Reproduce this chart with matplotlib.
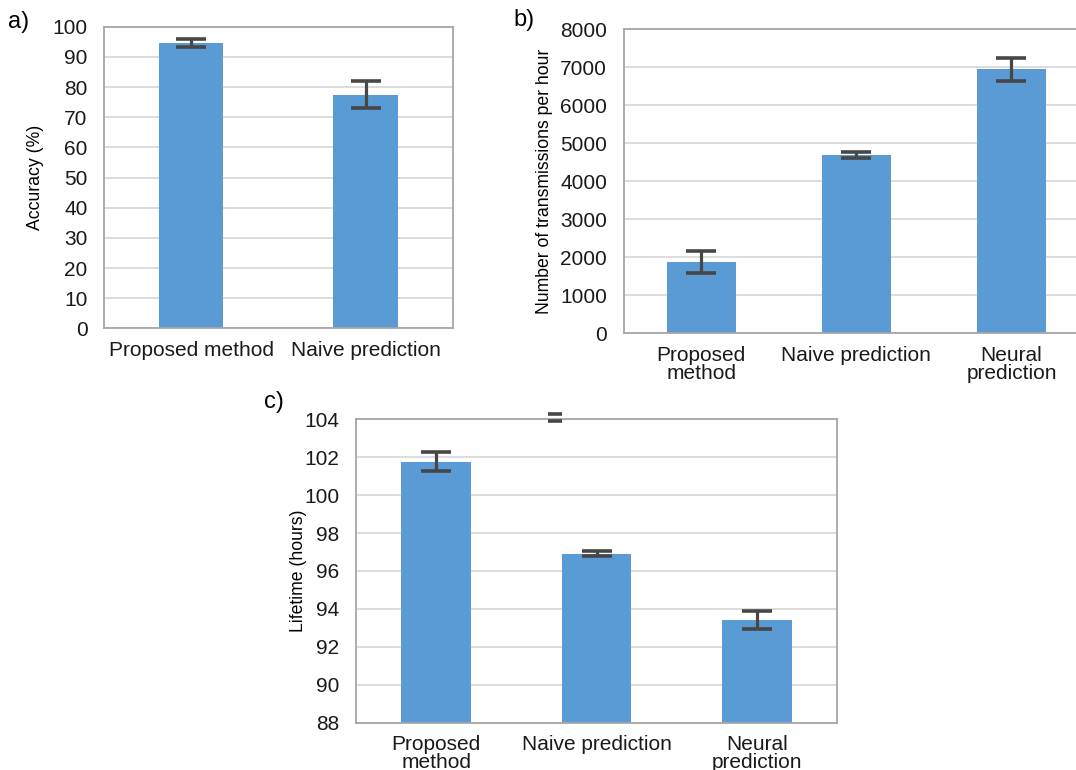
import matplotlib
matplotlib.use("Agg")
import matplotlib.pyplot as plt
import numpy as np

plt.rcParams['font.family'] = ['Liberation Sans', 'DejaVu Sans']

# panel a
acc_labels = ["Proposed method", "Naive prediction"]
acc_vals = [94.6, 77.5]
acc_err = [1.2, 4.6]

# panel b
tx_labels = ["Proposed\nmethod", "Naive prediction", "Neural\nprediction"]
tx_vals = [1870, 4690, 6945]
tx_err = [285, 75, 310]

# panel c
life_labels = ["Proposed\nmethod", "Naive prediction", "Neural\nprediction"]
life_vals = [101.77, 96.92, 93.4]
life_err = [0.5, 0.15, 0.48]
# stray error bar sitting on the top border in the original
stray_x = [0.74]
stray_y = [104.1]
stray_err = [0.2]

BAR = '#5B9BD5'
ERR = '#474747'
GRID = '#D9D9D9'
SPINE = '#A6A6A6'


def style(ax, ticks, ylabel, lpad):
    ax.set_yticks(ticks)
    ax.set_ylim(ticks[0], ticks[-1])
    ax.yaxis.grid(True, color=GRID, linewidth=1.3)
    ax.set_axisbelow(True)
    for s in ax.spines.values():
        s.set_color(SPINE)
        s.set_linewidth(1.3)
    ax.tick_params(length=0, labelsize=15, colors='#1a1a1a')
    ax.tick_params(axis='x', pad=9)
    ax.tick_params(axis='y', pad=12)
    ax.set_ylabel(ylabel, fontsize=12.7, labelpad=lpad)


def bars(ax, labels, vals, err, width):
    x = np.arange(len(labels))
    ax.bar(x, vals, width=width, color=BAR, zorder=2)
    ax.errorbar(x, vals, yerr=err, fmt='none', ecolor=ERR, elinewidth=2.3,
                capsize=11, capthick=2.6, zorder=3)
    ax.set_xticks(x)
    ax.set_xticklabels(labels, linespacing=0.95)
    ax.set_xlim(-0.5, len(labels) - 0.5)


fig = plt.figure(figsize=(10.76, 7.70), dpi=100)

ax1 = fig.add_axes([0.0967, 0.5736, 0.324, 0.3917])
bars(ax1, acc_labels, acc_vals, acc_err, 0.37)
style(ax1, np.arange(0, 101, 10), "Accuracy (%)", 6)

ax2 = fig.add_axes([0.5796, 0.5671, 0.4325, 0.395])
bars(ax2, tx_labels, tx_vals, tx_err, 0.445)
style(ax2, np.arange(0, 8001, 1000), "Number of transmissions per hour", 5)

ax3 = fig.add_axes([0.3309, 0.0614, 0.447, 0.3941])
bars(ax3, life_labels, life_vals, life_err, 0.436)
style(ax3, np.arange(88, 105, 2), "Lifetime (hours)", -2)
ax3.errorbar(stray_x, stray_y, yerr=stray_err, fmt='none', ecolor=ERR,
             elinewidth=0, capsize=5, capthick=2.6, zorder=4, clip_on=False)

fig.text(0.0075, 0.971, "a)", fontsize=17, va='center')
fig.text(0.477, 0.974, "b)", fontsize=17, va='center')
fig.text(0.245, 0.478, "c)", fontsize=17, va='center')

fig.savefig("out.png", dpi=100)
